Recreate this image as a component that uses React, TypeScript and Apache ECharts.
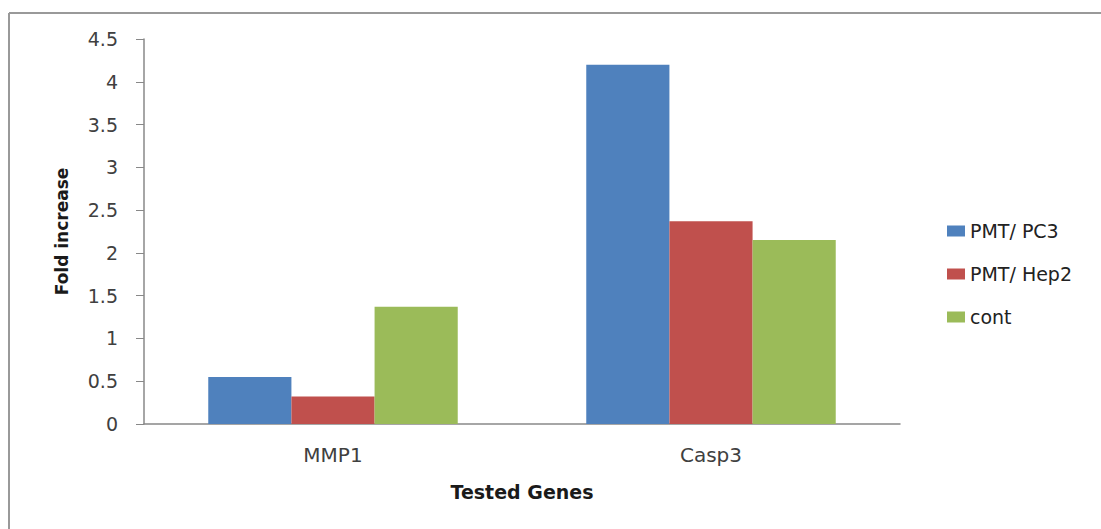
import React, { useEffect, useRef } from "react";
import * as echarts from "echarts";

const categories = ["MMP1", "Casp3"];
const seriesNames = ["PMT/ PC3", "PMT/ Hep2", "cont"];
const pc3Values = [0.55, 4.2];
const hep2Values = [0.32, 2.37];
const contValues = [1.37, 2.15];
const colors = ["#4F81BD", "#C0504D", "#9BBB59"];
const FONT = "DejaVu Sans";

export default function App() {
  const ref = useRef<HTMLDivElement>(null);
  useEffect(() => {
    if (!ref.current) return;
    const chart = echarts.init(ref.current, undefined, { renderer: "svg" });
    const values = [pc3Values, hep2Values, contValues];
    chart.setOption({
      animation: false,
      backgroundColor: "#ffffff",
      textStyle: { fontFamily: FONT },
      grid: { left: 144, right: 201, top: 39, bottom: 105, containLabel: false },
      legend: {
        orient: "vertical",
        left: 942,
        top: 216,
        itemWidth: 18,
        itemHeight: 11,
        itemGap: 23,
        icon: "rect",
        textStyle: { fontFamily: FONT, fontSize: 19, lineHeight: 20, color: "#222" },
        data: seriesNames,
      },
      xAxis: {
        type: "category",
        data: categories,
        name: "Tested Genes",
        nameLocation: "middle",
        nameGap: 58,
        nameTextStyle: { fontFamily: FONT, fontSize: 19, fontWeight: "bold", color: "#1a1a1a" },
        axisLine: { lineStyle: { color: "#888", width: 1.5 } },
        axisTick: { show: false },
        axisLabel: { fontFamily: FONT, fontSize: 20, color: "#404040", margin: 21 },
      },
      yAxis: {
        type: "value",
        min: 0,
        max: 4.5,
        interval: 0.5,
        name: "Fold increase",
        nameLocation: "middle",
        nameGap: 74,
        nameTextStyle: { fontFamily: FONT, fontSize: 17, fontWeight: "bold", color: "#1a1a1a" },
        axisLine: { show: true, lineStyle: { color: "#888", width: 1.5 } },
        axisTick: { show: true, length: 8, lineStyle: { color: "#888" } },
        splitLine: { show: false },
        axisLabel: { fontFamily: FONT, fontSize: 19, color: "#404040", margin: 26 },
      },
      series: seriesNames.map((name, i) => ({
        name,
        type: "bar",
        data: values[i],
        itemStyle: { color: colors[i] },
        barGap: "0%",
        barCategoryGap: "34%",
      })),
      graphic: [
        { type: "line", shape: { x1: 9, y1: 13, x2: 1101, y2: 13 }, style: { stroke: "#999", lineWidth: 2 } },
        { type: "line", shape: { x1: 9, y1: 13, x2: 9, y2: 529 }, style: { stroke: "#999", lineWidth: 2 } },
      ],
    });
    return () => chart.dispose();
  }, []);
  return <div ref={ref} style={{ position: "absolute", left: 0, top: 0, width: 1101, height: 529 }} />;
}
